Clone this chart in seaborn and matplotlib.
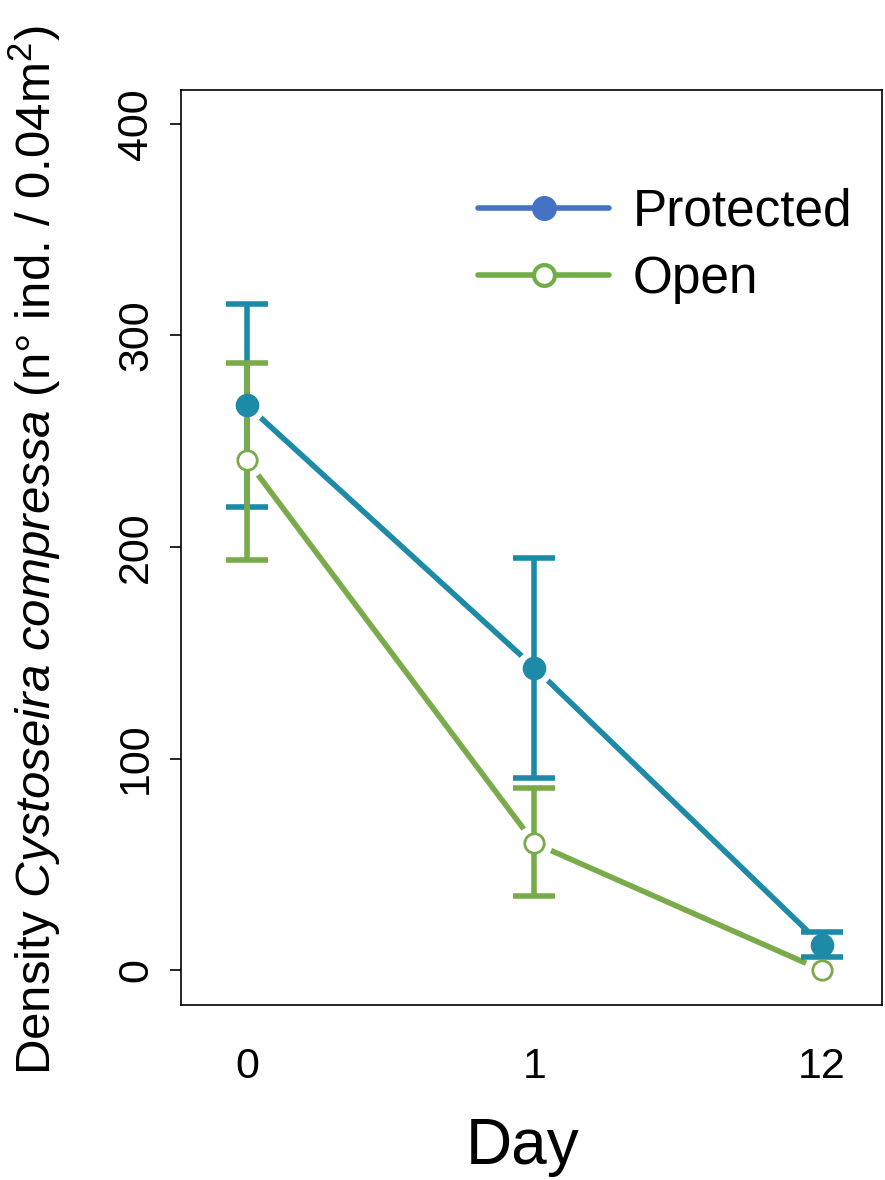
import matplotlib
matplotlib.use('Agg')
import matplotlib.pyplot as plt
from matplotlib.lines import Line2D
import seaborn as sns
import pandas as pd
import numpy as np

# values
days = ['0', '1', '12']
prot_mean = [267, 143, 12]
prot_lo = [219, 91, 6]
prot_hi = [315, 195, 18]
open_mean = [241, 60, 0]
open_lo = [194, 35, 0]
open_hi = [287, 86, 0]

teal = '#1d8ba8'
green = '#7aab4a'
leg_blue = '#4472c4'
leg_green = '#70ad47'

sns.set_style('ticks')
plt.rcParams['font.family'] = ['Liberation Sans', 'DejaVu Sans']
plt.rcParams['mathtext.fontset'] = 'custom'
plt.rcParams['mathtext.rm'] = 'Liberation Sans'
plt.rcParams['mathtext.it'] = 'Liberation Sans:italic'
for k in ['text.color', 'axes.labelcolor', 'xtick.color', 'ytick.color', 'axes.edgecolor']:
    plt.rcParams[k] = 'black'

xpos = np.arange(len(days))
df = pd.DataFrame({
    'x': np.concatenate([xpos, xpos]),
    'y': prot_mean + open_mean,
    'grp': ['Protected'] * 3 + ['Open'] * 3,
})

fig = plt.figure(figsize=(8.85, 11.8), dpi=100)
ax = fig.add_axes([0.2045, 0.1483, 0.7921, 0.7754])

# lines
sns.lineplot(data=df, x='x', y='y', hue='grp', palette={'Protected': teal, 'Open': green},
             lw=4, ax=ax, legend=False, zorder=1)
# white halos give the R type="b" gaps
ax.plot(xpos, prot_mean, 'o', ms=25, color='white', zorder=2)
ax.plot(xpos, open_mean, 'o', ms=25, color='white', zorder=2)

# error bars
def ebar(mean, lo, hi, col):
    m = np.array(mean)
    err = np.vstack([m - np.array(lo), np.array(hi) - m])
    keep = err.sum(axis=0) > 0
    ax.errorbar(xpos[keep], m[keep], yerr=err[:, keep], fmt='none', ecolor=col,
                elinewidth=4, capsize=15, capthick=4, zorder=3)

ebar(prot_mean, prot_lo, prot_hi, teal)
ebar(open_mean, open_lo, open_hi, green)

ax.plot(xpos, prot_mean, 'o', ms=16, color=teal, zorder=4)
ax.plot(xpos, open_mean, 'o', ms=14, mfc='white', mec=green, mew=2, zorder=5)

ax.set_xlim(-0.23, 2.21)
ax.set_ylim(-16.5, 416)
ax.set_xticks(xpos)
ax.set_xticklabels(days)
ax.set_yticks([0, 100, 200, 300, 400])
ax.tick_params(axis='x', length=0, pad=30, labelsize=31)
ax.tick_params(axis='y', length=8, width=1.2, pad=10, labelsize=31)
for t in ax.get_yticklabels():
    t.set_rotation(90)
    t.set_va('center')
for s in ax.spines.values():
    s.set_visible(True)
    s.set_linewidth(1.2)

ax.set_xlabel('Day', fontsize=46)
ax.xaxis.set_label_coords(0.488, -0.122)
ax.set_ylabel(r'Density $\it{Cystoseira\ compressa}$ (n° ind. / 0.04m$^2$)', fontsize=35.5)
ax.yaxis.set_label_coords(-0.168, 0.497)

handles = [
    Line2D([], [], color=leg_blue, lw=4, marker='o', ms=17),
    Line2D([], [], color=leg_green, lw=4, marker='o', ms=15, mfc='white', mew=3),
]
ax.legend(handles, ['Protected', 'Open'], loc='upper left', bbox_to_anchor=(0.424, 0.893),
          frameon=False, fontsize=37, handlelength=2.55, handletextpad=0.45,
          labelspacing=0.35, borderpad=0, borderaxespad=0)

fig.savefig('out.png', dpi=100)
